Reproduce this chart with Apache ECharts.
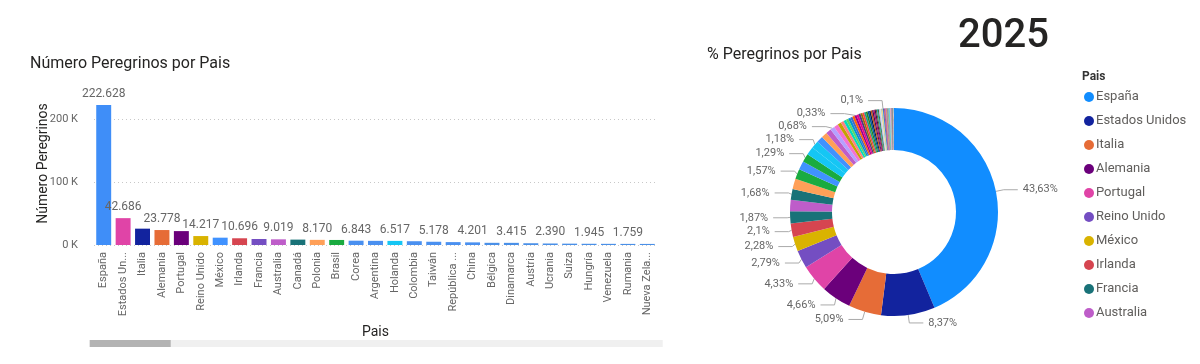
<!DOCTYPE html>
<html><head><meta charset="utf-8">
<script src="https://cdn.jsdelivr.net/npm/echarts@6/dist/echarts.min.js"></script>
<style>html,body{margin:0;padding:0;background:#fff}#c{width:1200px;height:364px}</style>
</head><body><div id="c"></div>
<script>
// ---- DATA ----
const topCountries = ['España','Estados Unidos','Italia','Alemania','Portugal','Reino Unido','México','Irlanda','Francia','Australia',
  'Canadá','Polonia','Brasil','Corea','Argentina','Holanda','Colombia','Taiwán','República Checa','China',
  'Bélgica','Dinamarca','Austria','Ucrania','Suiza','Hungría','Venezuela','Rumania','Nueva Zelanda'];
const topPilgrims = [222628,42686,25972,23778,22094,14217,11634,10696,9542,9019,
  8570,8170,8011,6843,6590,6517,6021,5178,4600,4201,
  3470,3415,2800,2390,2150,1945,1850,1759,1720];
const otherCountries = ['Chile','Sudáfrica','Japón','Eslovaquia','Suecia','Lituania','Noruega','Finlandia','Filipinas','Perú',
  'Eslovenia','Croacia','Singapur','Letonia','Puerto Rico','Rusia','Costa Rica','Israel','Guatemala','Ecuador',
  'Uruguay','India','Luxemburgo','Estonia','Malasia','Hong Kong','Bulgaria','Grecia','República Dominicana','Panamá',
  'Indonesia','Serbia','Cuba','Vietnam','Turquía','El Salvador','Honduras','Paraguay','Bolivia','Islandia',
  'Malta','Nicaragua','Bielorrusia','Tailandia','Andorra','Kenia','Nigeria','Chipre','Angola','Cabo Verde',
  'Marruecos','Kazajistán','Líbano','Georgia','Moldavia','Bosnia y Herzegovina','Albania','Emiratos Árabes Unidos','Egipto','Mozambique',
  'Irán','Armenia','Macedonia del Norte','Zimbabue','Montenegro','Pakistán','Ghana','Uganda','Tanzania','Jamaica',
  'Trinidad y Tobago','Mónaco','Camerún','Senegal','Túnez','Argelia','Etiopía','Nepal','Sri Lanka','Bangladés',
  'Jordania','Arabia Saudí','Catar','Azerbaiyán','Uzbekistán','San Marino','Liechtenstein','Guinea Ecuatorial','Costa de Marfil','Ruanda',
  'Zambia','Namibia','Botsuana','Madagascar','Mauricio','Haití','Belice','Bahamas','Barbados','Kosovo',
  'Mongolia','Camboya','Myanmar','Kuwait','Omán','Baréin','Irak','Siria','Palestina','Afganistán',
  'Kirguistán','Tayikistán','Turkmenistán','Laos','Brunéi','Macao','Fiyi','Papúa Nueva Guinea','Samoa','Tonga',
  'Guyana','Surinam','Santa Lucía','Granada','Dominica','Antigua y Barbuda','San Vicente y las Granadinas','San Cristóbal y Nieves','Malaui','Benín',
  'Togo','Malí','Burkina Faso','Níger','Chad','Sudán','Sudán del Sur','Eritrea','Yibuti','Somalia',
  'Gabón','Congo','R. D. del Congo','República Centroafricana','Burundi','Guinea','Guinea-Bisáu','Sierra Leona','Liberia','Gambia',
  'Mauritania','Libia','Esuatini','Lesoto','Comoras','Seychelles','Santo Tomé y Príncipe','Maldivas','Bután','Timor Oriental',
  'Corea del Norte','Yemen','Vanuatu','Islas Salomón','Kiribati','Micronesia','Palaos','Islas Marshall','Nauru','Tuvalu'];
const otherPilgrims = [1690,1680,1620,1560,1490,1420,1350,1280,1200,1130,
  1060,990,920,860,800,750,700,650,610,570,
  540,510,480,450,420,395,370,345,320,300,
  285,270,255,240,228,216,204,192,180,170,
  160,150,141,133,125,118,111,105,99,94,
  90,86,82,78,74,70,66,63,60,57,
  49,47,45,43,41,39,37,35,33,31,
  30,29,28,27,26,25,24,23,22,21,
  20,19,18,17,16,15,14,14,13,13,
  12,12,11,11,10,10,9,9,9,8,
  8,8,7,7,7,6,6,6,6,5,
  5,5,5,4,4,4,4,4,3,3,
  3,3,3,3,3,3,2,2,2,2,
  2,2,2,2,2,2,2,2,2,2,
  2,2,2,1,1,1,1,1,1,1,
  1,1,1,1,1,1,1,1,1,1,
  1,1,1,1,1,1,1,1,1,1];
const yTickValues = [0, 100000, 200000];
const yTickLabels = ['0 K', '100 K', '200 K'];
const pieLabeled = ['España','Estados Unidos','Italia','Alemania','Portugal','Reino Unido','México','Irlanda','Francia',
  'Canadá','Brasil','Argentina','Colombia','Bélgica','Chile','India'];
const legendCountries = topCountries.slice(0, 10);

// ---- STYLES ----
const FONT = 'Roboto, "Open Sans", sans-serif';
const barColors = ['#3F8EF8','#E044A7','#12239E','#E66C37','#6B007B','#D9B300','#4092FF','#D64550','#744EC2','#BE5DC9',
  '#197278','#FFA058','#1AAB40','#4A90F0','#4A90F0','#15C6F4','#4A90F0','#4A90F0','#4A90F0','#4A90F0'];
const barDefault = '#4A90E8';
const pieColors = ['#118DFF','#12239E','#E66C37','#6B007B','#E044A7','#744EC2','#D9B300','#D64550','#197278','#BE5DC9',
  '#197278','#FFA058','#1AAB40','#4092FF','#1AAB40','#15C6F4','#15C6F4','#4092FF','#FFA058','#BE5DC9',
  '#B5A1FF','#F472D0','#C4A200','#FF8080','#00DBBC','#5BD667','#0091D5','#4668C5','#FF6300','#99008A',
  '#EC008C','#533285','#99700A','#FF4141','#1F9A85','#25891C','#0057A2','#002050','#C94F0F','#450F54',
  '#B60064','#34124F','#6A5A29','#1BA1AD','#1A6B28','#D4A6E3','#9EE4F3','#FFD8A6','#A3A3A3','#E8E15A'];

const countries = topCountries.concat(otherCountries);
const pilgrims = topPilgrims.concat(otherPilgrims);
const total = pilgrims.reduce((a, b) => a + b, 0);
const fmtThousands = v => String(v).replace(/\B(?=(\d{3})+(?!\d))/g, '.');
const fmtPct = v => String(Math.round(v / total * 10000) / 100).replace('.', ',') + '%';

const chart = echarts.init(document.getElementById('c'), null, {renderer: 'canvas'});
chart.setOption({
  animation: false,
  textStyle: {fontFamily: FONT},
  title: [
    {text: 'Número Peregrinos por Pais', left: 25, top: 51, textStyle: {fontFamily: FONT, fontSize: 16, fontWeight: 'normal', color: '#252423'}},
    {text: '% Peregrinos por Pais', left: 702, top: 42, textStyle: {fontFamily: FONT, fontSize: 16, fontWeight: 'normal', color: '#252423'}},
    {text: '2025', left: 953, top: 12, textStyle: {fontFamily: FONT, fontSize: 40, fontWeight: 500, color: '#252423'}},
    {text: 'Pais', left: 1077, top: 66, textStyle: {fontFamily: FONT, fontSize: 12, fontWeight: 'bold', color: '#333'}}
  ],
  legend: {
    data: legendCountries, orient: 'vertical', left: 1079, top: 85, icon: 'circle',
    itemWidth: 10, itemHeight: 10, itemGap: 10, selectedMode: false,
    textStyle: {fontFamily: FONT, fontSize: 13, color: '#605E5C', lineHeight: 14, padding: [0, 0, 0, -3]}
  },
  grid: {left: 94, right: 543, top: 94, bottom: 119},
  xAxis: {
    type: 'category', data: countries,
    axisLine: {show: false}, axisTick: {show: false},
    axisLabel: {rotate: 90, interval: 0, fontSize: 11, color: '#666', margin: 7, width: 66, overflow: 'truncate', ellipsis: '...'},
    name: 'Pais', nameLocation: 'middle', nameGap: 80,
    nameTextStyle: {fontFamily: FONT, fontSize: 14, color: '#252423'}
  },
  yAxis: {
    type: 'value', min: 0, max: 240000, interval: 100000,
    axisLine: {show: false}, axisTick: {show: false},
    axisLabel: {fontSize: 11, color: '#666', margin: 16, showMaxLabel: false,
      formatter: v => { const i = yTickValues.indexOf(v); return i >= 0 ? yTickLabels[i] : ''; }},
    splitLine: {showMaxLine: false, lineStyle: {type: [1, 3], color: '#c8c8c8'}},
    name: 'Número Peregrinos', nameLocation: 'middle', nameGap: 44, nameMoveOverlap: false,
    nameTextStyle: {fontFamily: FONT, fontSize: 14, color: '#252423', padding: [0, 0, 0, 12]}
  },
  dataZoom: [{
    type: 'slider', xAxisIndex: 0, startValue: 0, endValue: 28,
    left: 89, right: 538, bottom: 17, height: 7,
    showDetail: false, showDataShadow: false, brushSelect: false, zoomLock: true,
    handleSize: 0, handleStyle: {opacity: 0}, moveHandleSize: 0,
    fillerColor: '#b3b3b3', backgroundColor: '#f0f0f0', borderColor: 'transparent', borderRadius: 4,
    dataBackground: {lineStyle: {opacity: 0}, areaStyle: {opacity: 0}},
    selectedDataBackground: {lineStyle: {opacity: 0}, areaStyle: {opacity: 0}}
  }],
  series: [
    {
      type: 'bar', barCategoryGap: '23%',
      data: pilgrims.map((v, i) => ({value: v, itemStyle: {color: barColors[i] || barDefault}})),
      label: {
        show: true, position: 'top', distance: 5, fontSize: 12, color: '#666',
        formatter: p => (p.dataIndex === 0 || p.dataIndex % 2 === 1) ? fmtThousands(p.value) : ''
      }
    },
    {
      type: 'pie', center: [894, 212], radius: [62, 104], startAngle: 90, clockwise: true,
      avoidLabelOverlap: true,
      itemStyle: {borderWidth: 0},
      emphasis: {disabled: true},
      label: {fontSize: 11, color: '#666', formatter: p => fmtPct(p.value)},
      labelLine: {length: 8, length2: 14, lineStyle: {color: '#aaa', width: 1}},
      data: countries.map((n, i) => {
        const lab = pieLabeled.indexOf(n) >= 0;
        return {name: n, value: pilgrims[i], itemStyle: {color: pieColors[i % pieColors.length]},
          label: {show: lab}, labelLine: {show: lab}};
      })
    }
  ]
});
</script>
</body></html>
